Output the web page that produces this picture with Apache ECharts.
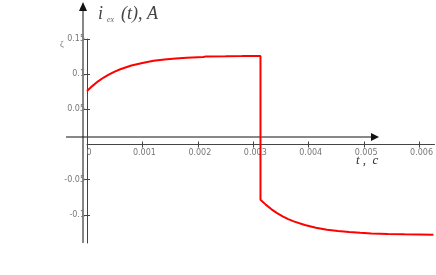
<!DOCTYPE html>
<html>
<head>
<meta charset="utf-8">
<script src="https://cdn.jsdelivr.net/npm/echarts@6/dist/echarts.min.js"></script>
<style>
html,body{margin:0;padding:0;background:#fff;}
#chart{width:436px;height:275px;}
</style>
</head>
<body>
<div id="chart"></div>
<script>
// time (s) and current (A) before the switching instant
var timeUpper = [0, 0.0001, 0.0002, 0.0003, 0.0004, 0.0005, 0.0006, 0.0008, 0.001, 0.0012, 0.0014, 0.0016, 0.0018, 0.002, 0.0021, 0.00215, 0.0025, 0.0028, 0.0030, 0.00313];
var currentUpper = [0.076, 0.0834, 0.0898, 0.0952, 0.0997, 0.1037, 0.107, 0.1123, 0.116, 0.119, 0.1208, 0.1222, 0.1232, 0.124, 0.1243, 0.1253, 0.1255, 0.1257, 0.126, 0.126];
// time (s) and current (A) after the switching instant
var timeLower = [0.00313, 0.00323, 0.00333, 0.00343, 0.00353, 0.00363, 0.00373, 0.00393, 0.00413, 0.00433, 0.00453, 0.00473, 0.00493, 0.00513, 0.00543, 0.00573, 0.00625];
var currentLower = [-0.0786, -0.0858, -0.0921, -0.0975, -0.1021, -0.106, -0.1093, -0.1145, -0.1183, -0.1211, -0.1231, -0.1245, -0.1256, -0.1264, -0.1272, -0.1277, -0.1284];
// tick labels
var xTicks = [0, 0.001, 0.002, 0.003, 0.004, 0.005, 0.006];
var yTicks = [-0.1, -0.05, 0.05, 0.1, 0.15];

var Y_MIN = -0.14, Y_MAX = 0.15;
var GRID_TOP = 39, GRID_H = 204;
// shift the x axis up from the grid bottom to the zero level of the y scale
var zeroOffset = -GRID_H * (0 - Y_MIN) / (Y_MAX - Y_MIN);

var seriesData = [];
for (var i = 0; i < timeUpper.length; i++) seriesData.push([timeUpper[i], currentUpper[i]]);
for (var j = 0; j < timeLower.length; j++) seriesData.push([timeLower[j], currentLower[j]]);

var labelStyle = {color: '#777', fontSize: 8, fontFamily: 'DejaVu Sans'};
var chart = echarts.init(document.getElementById('chart'));
chart.setOption({
  animation: false,
  grid: {left: 87, top: GRID_TOP, width: 348, height: GRID_H},
  xAxis: [{
    type: 'value', min: 0, max: 0.00627, position: 'bottom', offset: zeroOffset,
    axisLine: {onZero: false, lineStyle: {color: '#444', width: 1}},
    axisTick: {show: true, length: 3, customValues: xTicks.slice(1), lineStyle: {color: '#444'}},
    axisLabel: Object.assign({customValues: xTicks, margin: 4, padding: [0, 0, 0, 4], formatter: function (v) { return String(v); }}, labelStyle),
    splitLine: {show: false}
  }, {
    type: 'value', min: 0, max: 0.00627, position: 'bottom', offset: zeroOffset,
    axisLine: {show: false, onZero: false},
    axisTick: {show: true, inside: true, length: 3, customValues: xTicks.slice(1), lineStyle: {color: '#444'}},
    axisLabel: {show: false}, splitLine: {show: false}
  }],
  yAxis: [{
    type: 'value', min: Y_MIN, max: Y_MAX, position: 'left',
    axisLine: {show: true, onZero: false, lineStyle: {color: '#444', width: 1}},
    axisTick: {show: true, length: 3, customValues: yTicks, lineStyle: {color: '#444'}},
    axisLabel: Object.assign({customValues: yTicks, margin: 2, formatter: function (v) { return String(v); }}, labelStyle),
    splitLine: {show: false}
  }, {
    type: 'value', min: Y_MIN, max: Y_MAX, position: 'left',
    axisLine: {show: false, onZero: false},
    axisTick: {show: true, inside: true, length: 3, customValues: yTicks, lineStyle: {color: '#444'}},
    axisLabel: {show: false}, splitLine: {show: false}
  }],
  series: [{
    type: 'line', data: seriesData, xAxisIndex: 0, yAxisIndex: 0,
    showSymbol: false, smooth: false,
    lineStyle: {color: '#ff0000', width: 2}
  }],
  graphic: [
    {type: 'line', shape: {x1: 66, y1: 137, x2: 372, y2: 137}, style: {stroke: '#111', lineWidth: 1}},
    {type: 'polygon', shape: {points: [[371, 133], [379, 137], [371, 141]]}, style: {fill: '#111'}},
    {type: 'line', shape: {x1: 83, y1: 243, x2: 83, y2: 10}, style: {stroke: '#111', lineWidth: 1}},
    {type: 'polygon', shape: {points: [[79, 11], [83, 2], [87, 11]]}, style: {fill: '#111'}},
    {type: 'text', left: 98, top: 5, style: {text: 'i', font: 'italic 18px "Liberation Serif"', fill: '#444'}},
    {type: 'text', left: 107, top: 16, style: {text: 'ex', font: 'italic 8px "Liberation Serif"', fill: '#666'}},
    {type: 'text', left: 121, top: 5, style: {text: '(t), A', font: 'italic 18px "Liberation Serif"', fill: '#444'}},
    {type: 'text', left: 356, top: 154, style: {text: 't ,  c', font: 'italic 13px "Liberation Serif"', fill: '#333'}},
    {type: 'text', left: 60, top: 40, style: {text: 'ζ', font: '9px "Liberation Serif"', fill: '#666'}}
  ]
});
</script>
</body>
</html>
